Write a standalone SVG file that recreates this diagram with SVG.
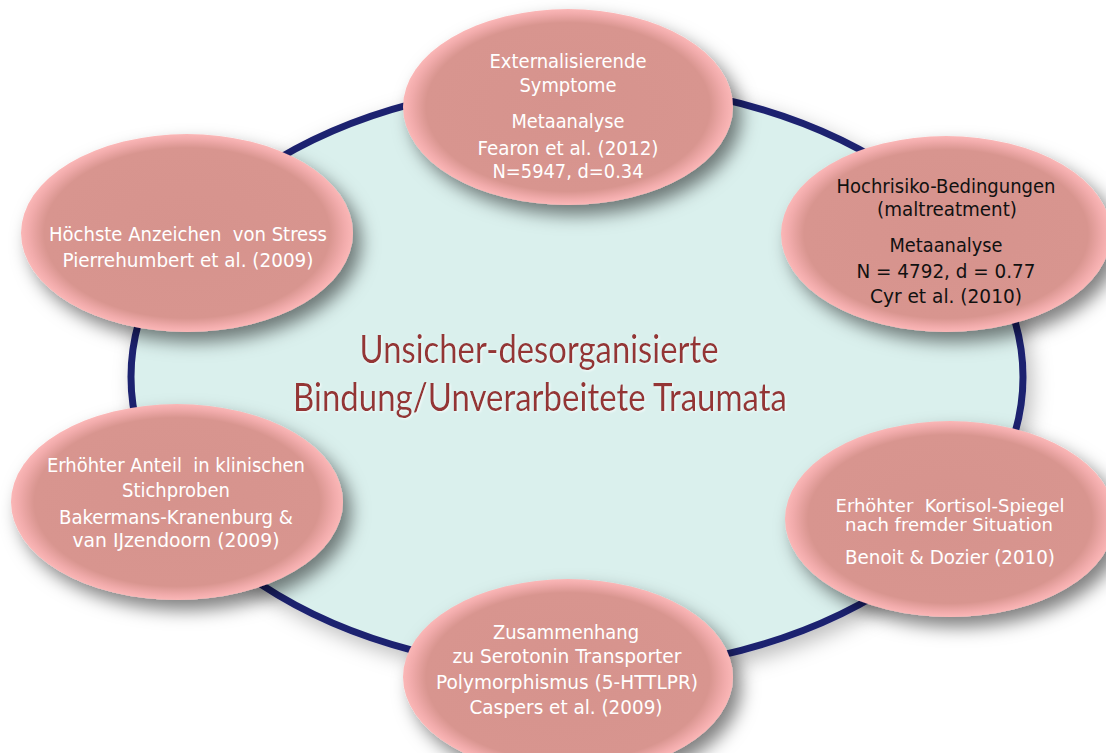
<svg xmlns="http://www.w3.org/2000/svg" width="1106" height="753" viewBox="0 0 1106 753">
<style>
.node-shape{fill:url(#pinkGrad);filter:url(#shadow);}
.nt{font-family:"DejaVu Sans Condensed","DejaVu Sans",sans-serif;font-size:20px;fill:#ffffff;text-anchor:middle;white-space:pre;}
.tight{font-size:18.5px;}
.dark{fill:#111111;}
.title{font-family:Lato,"Open Sans",sans-serif;font-size:38px;fill:#943634;text-anchor:middle;}
</style>
<defs>
<radialGradient id="pinkGrad" cx="0.5" cy="0.5" r="0.5">
<stop offset="0" stop-color="#d6938d"/>
<stop offset="0.86" stop-color="#d8958f"/>
<stop offset="0.95" stop-color="#f1abab"/>
<stop offset="1" stop-color="#fbb7b7"/>
</radialGradient>
<filter id="shadow" x="-20%" y="-20%" width="145%" height="150%">
<feDropShadow dx="8" dy="10" stdDeviation="9" flood-color="#000000" flood-opacity="0.5"/>
</filter>
<filter id="bigShadow" x="-10%" y="-10%" width="125%" height="130%">
<feDropShadow dx="6" dy="8" stdDeviation="10" flood-color="#000000" flood-opacity="0.25"/>
</filter>
<filter id="glow" x="-5%" y="-20%" width="110%" height="140%">
<feDropShadow dx="1" dy="1" stdDeviation="1" flood-color="#ffffff" flood-opacity="0.8"/>
</filter>
</defs>
<rect width="1106" height="753" fill="#ffffff"/>
<g id="center">
<ellipse cx="577" cy="377" rx="446" ry="294" fill="#daf0ed" stroke="#1e2270" stroke-width="7" filter="url(#bigShadow)"/>
<g filter="url(#glow)">
<text class="title" x="539" y="363" textLength="359" lengthAdjust="spacingAndGlyphs">Unsicher-desorganisierte</text>
<text class="title" x="540" y="411" textLength="494" lengthAdjust="spacingAndGlyphs">Bindung/Unverarbeitete Traumata</text>
</g>
</g>
<g id="connectors"/>
<g id="node-externalisierend">
<ellipse class="node-shape" cx="568" cy="107" rx="165" ry="98"/>
<text class="nt" x="568" y="68" textLength="157" lengthAdjust="spacingAndGlyphs">Externalisierende</text>
<text class="nt" x="568" y="92" textLength="97" lengthAdjust="spacingAndGlyphs">Symptome</text>
<text class="nt" x="568" y="128" textLength="113" lengthAdjust="spacingAndGlyphs">Metaanalyse</text>
<text class="nt" x="568" y="155" textLength="181" lengthAdjust="spacingAndGlyphs">Fearon et al. (2012)</text>
<text class="nt" x="568" y="178" textLength="151" lengthAdjust="spacingAndGlyphs">N=5947, d=0.34</text>
</g>
<g id="node-hochrisiko">
<ellipse class="node-shape" cx="946" cy="234" rx="165" ry="98"/>
<text class="nt dark" x="946" y="193" textLength="219" lengthAdjust="spacingAndGlyphs">Hochrisiko-Bedingungen</text>
<text class="nt dark" x="947" y="216" textLength="140" lengthAdjust="spacingAndGlyphs">(maltreatment)</text>
<text class="nt dark" x="946" y="252" textLength="113" lengthAdjust="spacingAndGlyphs">Metaanalyse</text>
<text class="nt dark" x="946" y="278" textLength="179" lengthAdjust="spacingAndGlyphs">N = 4792, d = 0.77</text>
<text class="nt dark" x="946" y="303" textLength="152" lengthAdjust="spacingAndGlyphs">Cyr et al. (2010)</text>
</g>
<g id="node-stress">
<ellipse class="node-shape" cx="187" cy="233" rx="166" ry="99"/>
<text class="nt" x="188" y="241" textLength="278" lengthAdjust="spacingAndGlyphs">Höchste Anzeichen  von Stress</text>
<text class="nt" x="188" y="267" textLength="251" lengthAdjust="spacingAndGlyphs">Pierrehumbert et al. (2009)</text>
</g>
<g id="node-klinisch">
<ellipse class="node-shape" cx="177" cy="502" rx="166" ry="98"/>
<text class="nt" x="176" y="472" textLength="258" lengthAdjust="spacingAndGlyphs">Erhöhter Anteil  in klinischen</text>
<text class="nt" x="176" y="497" textLength="108" lengthAdjust="spacingAndGlyphs">Stichproben</text>
<text class="nt" x="176" y="524" textLength="234" lengthAdjust="spacingAndGlyphs">Bakermans-Kranenburg &amp;</text>
<text class="nt" x="176" y="547" textLength="207" lengthAdjust="spacingAndGlyphs">van IJzendoorn (2009)</text>
</g>
<g id="node-kortisol">
<ellipse class="node-shape" cx="950" cy="519" rx="165" ry="98"/>
<text class="nt tight" x="950" y="512" textLength="229" lengthAdjust="spacingAndGlyphs">Erhöhter  Kortisol-Spiegel</text>
<text class="nt tight" x="949" y="531" textLength="208" lengthAdjust="spacingAndGlyphs">nach fremder Situation</text>
<text class="nt" x="950" y="564" textLength="210" lengthAdjust="spacingAndGlyphs">Benoit &amp; Dozier (2010)</text>
</g>
<g id="node-serotonin">
<ellipse class="node-shape" cx="568" cy="677" rx="165" ry="98"/>
<text class="nt" x="566" y="639" textLength="146" lengthAdjust="spacingAndGlyphs">Zusammenhang</text>
<text class="nt" x="567" y="663" textLength="229" lengthAdjust="spacingAndGlyphs">zu Serotonin Transporter</text>
<text class="nt" x="567" y="689" textLength="262" lengthAdjust="spacingAndGlyphs">Polymorphismus (5-HTTLPR)</text>
<text class="nt" x="566" y="714" textLength="193" lengthAdjust="spacingAndGlyphs">Caspers et al. (2009)</text>
</g>
</svg>
